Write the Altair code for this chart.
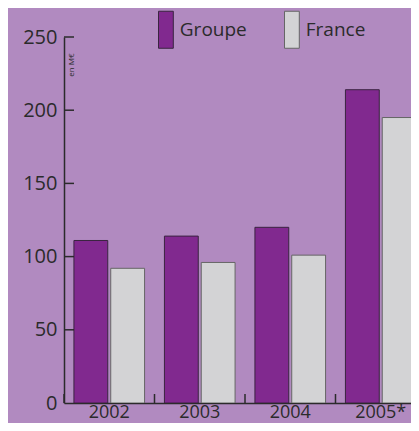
import altair as alt
import pandas as pd

years = ["2002", "2003", "2004", "2005*"]
series = ["Groupe", "France"]
groupe = [111, 114, 120, 214]
france = [92, 96, 101, 195]
y_ticks = [0, 50, 100, 150, 200, 250]
unit_label = ["en M€"]

rows = []
for i, yr in enumerate(years):
    rows.append({"year": yr, "series": "Groupe", "value": groupe[i]})
    rows.append({"year": yr, "series": "France", "value": france[i]})
df = pd.DataFrame(rows)

BG = "#b18ac0"
PURPLE = "#81298f"
GREY = "#d3d3d5"
INK = "#2b2b2b"
FONT = "Open Sans"

W, H, STEP = 347, 366, 90.5

xscale = alt.Scale(domain=years, range=[0, 4 * STEP], paddingInner=0, paddingOuter=0)
yscale = alt.Scale(domain=[0, 250], nice=False, zero=True)

xaxis = alt.Axis(title=None, ticks=False, labelAngle=0, labelFontSize=18,
                 labelFont=FONT, labelColor=INK, labelPadding=14.5,
                 labelBaseline="alphabetic", domainColor=INK, domainWidth=1.5,
                 grid=False)
yaxis = alt.Axis(title=None, values=y_ticks, ticks=False, grid=False,
                 labelFontSize=20, labelFont=FONT, labelColor=INK,
                 labelPadding=7, domainColor=INK, domainWidth=1.5)

bars = alt.Chart(df).mark_bar(strokeWidth=1, clip=True).encode(
    x=alt.X("year:N", scale=xscale, sort=years, axis=xaxis),
    xOffset=alt.XOffset("series:N", sort=series,
                        scale=alt.Scale(domain=series, paddingInner=0.081, paddingOuter=0.27)),
    y=alt.Y("value:Q", scale=yscale, axis=yaxis),
    color=alt.Color("series:N", sort=series,
                    scale=alt.Scale(domain=series, range=[PURPLE, GREY]),
                    legend=alt.Legend(title=None, orient="none", legendX=71.8, legendY=-26.5,
                                      direction="horizontal",
                                      symbolType="M0.2,-1L1,-1L1,1L0.2,1Z",
                                      symbolSize=1369, symbolOpacity=1,
                                      symbolStrokeColor=INK, symbolStrokeWidth=1,
                                      labelFontSize=19, labelFont=FONT, labelColor=INK,
                                      labelOffset=6, columnPadding=15, padding=0)),
    stroke=alt.Stroke("series:N", sort=series,
                      scale=alt.Scale(domain=series, range=["#3a2440", "#666666"]),
                      legend=None),
)

ytick_df = pd.DataFrame({"value": y_ticks[1:]})
yticks = alt.Chart(ytick_df).mark_rule(color=INK, strokeWidth=1.5).encode(
    y=alt.Y("value:Q", scale=yscale, axis=yaxis),
    x=alt.value(0),
    x2=alt.value(10),
)

xtick_df = pd.DataFrame({"year": years})
xticks = alt.Chart(xtick_df).mark_rule(color=INK, strokeWidth=1.5).encode(
    x=alt.X("year:N", scale=xscale, sort=years, bandPosition=0, axis=xaxis),
    y=alt.value(H - 9),
    y2=alt.value(H),
)

unit = alt.Chart(pd.DataFrame({"t": unit_label})).mark_text(
    angle=270, fontSize=8, color=INK, font=FONT
).encode(
    text="t:N",
    x=alt.value(8),
    y=alt.value(28),
)

chart = alt.layer(bars, yticks, xticks, unit).properties(
    width=W, height=H,
    background=BG,
    padding={"left": 56, "top": 29, "right": 0, "bottom": 20},
    autosize=alt.AutoSizeParams(type="none"),
).configure_view(stroke=None)

chart.save("out.html", embed_options={"renderer": "svg", "actions": False})
